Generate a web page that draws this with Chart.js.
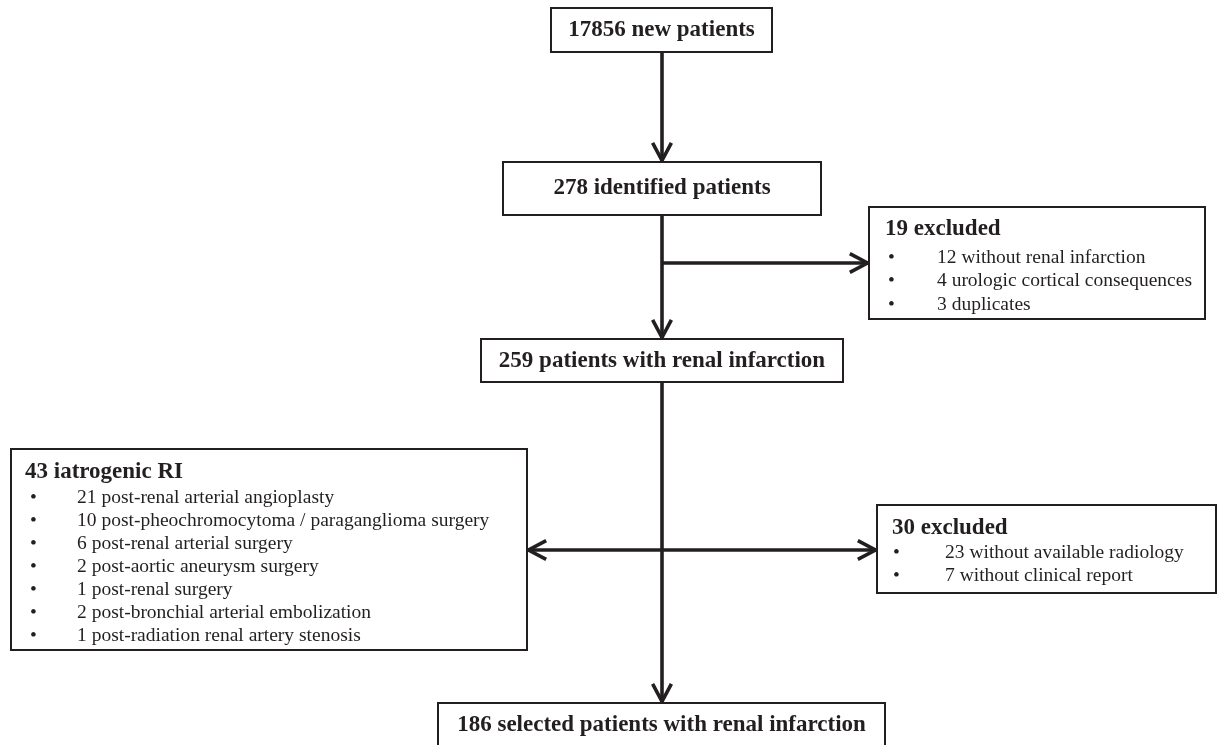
<!DOCTYPE html>
<html>
<head>
<meta charset="utf-8">
<script src="https://cdn.jsdelivr.net/npm/chart.js@4.4.1/dist/chart.umd.min.js"></script>
<style>
html,body{margin:0;padding:0;background:#fff;}
#wrap{width:1223px;height:745px;position:relative;}
</style>
</head>
<body>
<div id="wrap"><canvas id="c"></canvas></div>
<script>
// ---- DATA ----
const stageCounts = [17856, 278, 259, 186];
const stageLabels = ['new patients', 'identified patients', 'patients with renal infarction', 'selected patients with renal infarction'];

const excl1Count = 19;
const excl1Items = ['12 without renal infarction', '4 urologic cortical consequences', '3 duplicates'];

const iatroCount = 43;
const iatroItems = [
  '21 post-renal arterial angioplasty',
  '10 post-pheochromocytoma / paraganglioma surgery',
  '6 post-renal arterial surgery',
  '2 post-aortic aneurysm surgery',
  '1 post-renal surgery',
  '2 post-bronchial arterial embolization',
  '1 post-radiation renal artery stenosis'
];

const excl2Count = 30;
const excl2Items = ['23 without available radiology', '7 without clinical report'];

// ---- LAYOUT (in scale units of a 1223 x 745 frame) ----
const stageBoxes = [
  {x0: 551, x1: 772, y0: 8,   y1: 52,  ty: 30},
  {x0: 503, x1: 821, y0: 162, y1: 215, ty: 188.5},
  {x0: 481, x1: 843, y0: 339, y1: 382, ty: 361},
  {x0: 438, x1: 885, y0: 703, y1: 770, ty: 725}
];
const listBoxes = [
  {x0: 869, x1: 1205, y0: 207, y1: 319, titleX: 885, titleY: 229, bulletX: 888, textX: 937, firstY: 257.5, step: 23.5},
  {x0: 11,  x1: 527,  y0: 449, y1: 650, titleX: 25,  titleY: 472, bulletX: 30,  textX: 77,  firstY: 498, step: 23},
  {x0: 877, x1: 1216, y0: 505, y1: 593, titleX: 892, titleY: 528, bulletX: 893, textX: 945, firstY: 553, step: 22.5}
];
const spineX = 662;
const arrows = [
  [spineX, 52, spineX, 162],
  [spineX, 215, spineX, 339],
  [spineX, 263, 869, 263],
  [spineX, 382, spineX, 703],
  [spineX, 550, 527, 550],
  [spineX, 550, 877, 550]
];

const INK = '#231f20';
const BOLD = 'bold 23px "Liberation Serif", "Times New Roman", serif';
const REG = '19.5px "Liberation Serif", "Times New Roman", serif';

const flowPlugin = {
  id: 'flow',
  afterDraw(chart) {
    const ctx = chart.ctx;
    const sx = chart.scales.x, sy = chart.scales.y;
    const X = v => sx.getPixelForValue(v);
    const Y = v => sy.getPixelForValue(v);
    ctx.save();
    ctx.strokeStyle = INK;
    ctx.fillStyle = INK;

    // arrows
    ctx.lineWidth = 3.6;
    ctx.lineCap = 'butt';
    ctx.lineJoin = 'miter';
    arrows.forEach(a => {
      const x1 = X(a[0]), y1 = Y(a[1]), x2 = X(a[2]), y2 = Y(a[3]);
      ctx.beginPath();
      ctx.moveTo(x1, y1);
      ctx.lineTo(x2, y2);
      ctx.stroke();
      const ang = Math.atan2(y2 - y1, x2 - x1);
      const L = 20, spread = 28 * Math.PI / 180;
      const tx = x2 - Math.cos(ang) * 1.5, ty = y2 - Math.sin(ang) * 1.5;
      ctx.beginPath();
      ctx.moveTo(tx - L * Math.cos(ang - spread), ty - L * Math.sin(ang - spread));
      ctx.lineTo(tx, ty);
      ctx.lineTo(tx - L * Math.cos(ang + spread), ty - L * Math.sin(ang + spread));
      ctx.stroke();
    });

    // boxes
    ctx.lineWidth = 2;
    const box = b => {
      ctx.fillStyle = '#fff';
      ctx.fillRect(X(b.x0), Y(b.y0), X(b.x1) - X(b.x0), Y(b.y1) - Y(b.y0));
      ctx.strokeRect(X(b.x0), Y(b.y0), X(b.x1) - X(b.x0), Y(b.y1) - Y(b.y0));
      ctx.fillStyle = INK;
    };
    ctx.textBaseline = 'middle';
    stageBoxes.forEach((b, i) => {
      box(b);
      ctx.font = BOLD;
      ctx.textAlign = 'center';
      ctx.fillText(stageCounts[i] + ' ' + stageLabels[i], X((b.x0 + b.x1) / 2), Y(b.ty));
    });
    const lists = [
      [excl1Count + ' excluded', excl1Items],
      [iatroCount + ' iatrogenic RI', iatroItems],
      [excl2Count + ' excluded', excl2Items]
    ];
    listBoxes.forEach((b, i) => {
      box(b);
      ctx.textAlign = 'left';
      ctx.font = BOLD;
      ctx.fillText(lists[i][0], X(b.titleX), Y(b.titleY));
      ctx.font = REG;
      lists[i][1].forEach((t, j) => {
        const yy = Y(b.firstY + j * b.step);
        ctx.fillText('\u2022', X(b.bulletX), yy);
        ctx.fillText(t, X(b.textX), yy);
      });
    });
    ctx.restore();
  }
};

new Chart(document.getElementById('c'), {
  type: 'scatter',
  data: {datasets: [{data: [], pointRadius: 0}]},
  options: {
    responsive: true,
    maintainAspectRatio: false,
    animation: false,
    layout: {padding: 0},
    plugins: {legend: {display: false}, tooltip: {enabled: false}},
    scales: {
      x: {type: 'linear', min: 0, max: 1223, display: false},
      y: {type: 'linear', min: 0, max: 745, reverse: true, display: false}
    }
  },
  plugins: [flowPlugin]
});
</script>
</body>
</html>
